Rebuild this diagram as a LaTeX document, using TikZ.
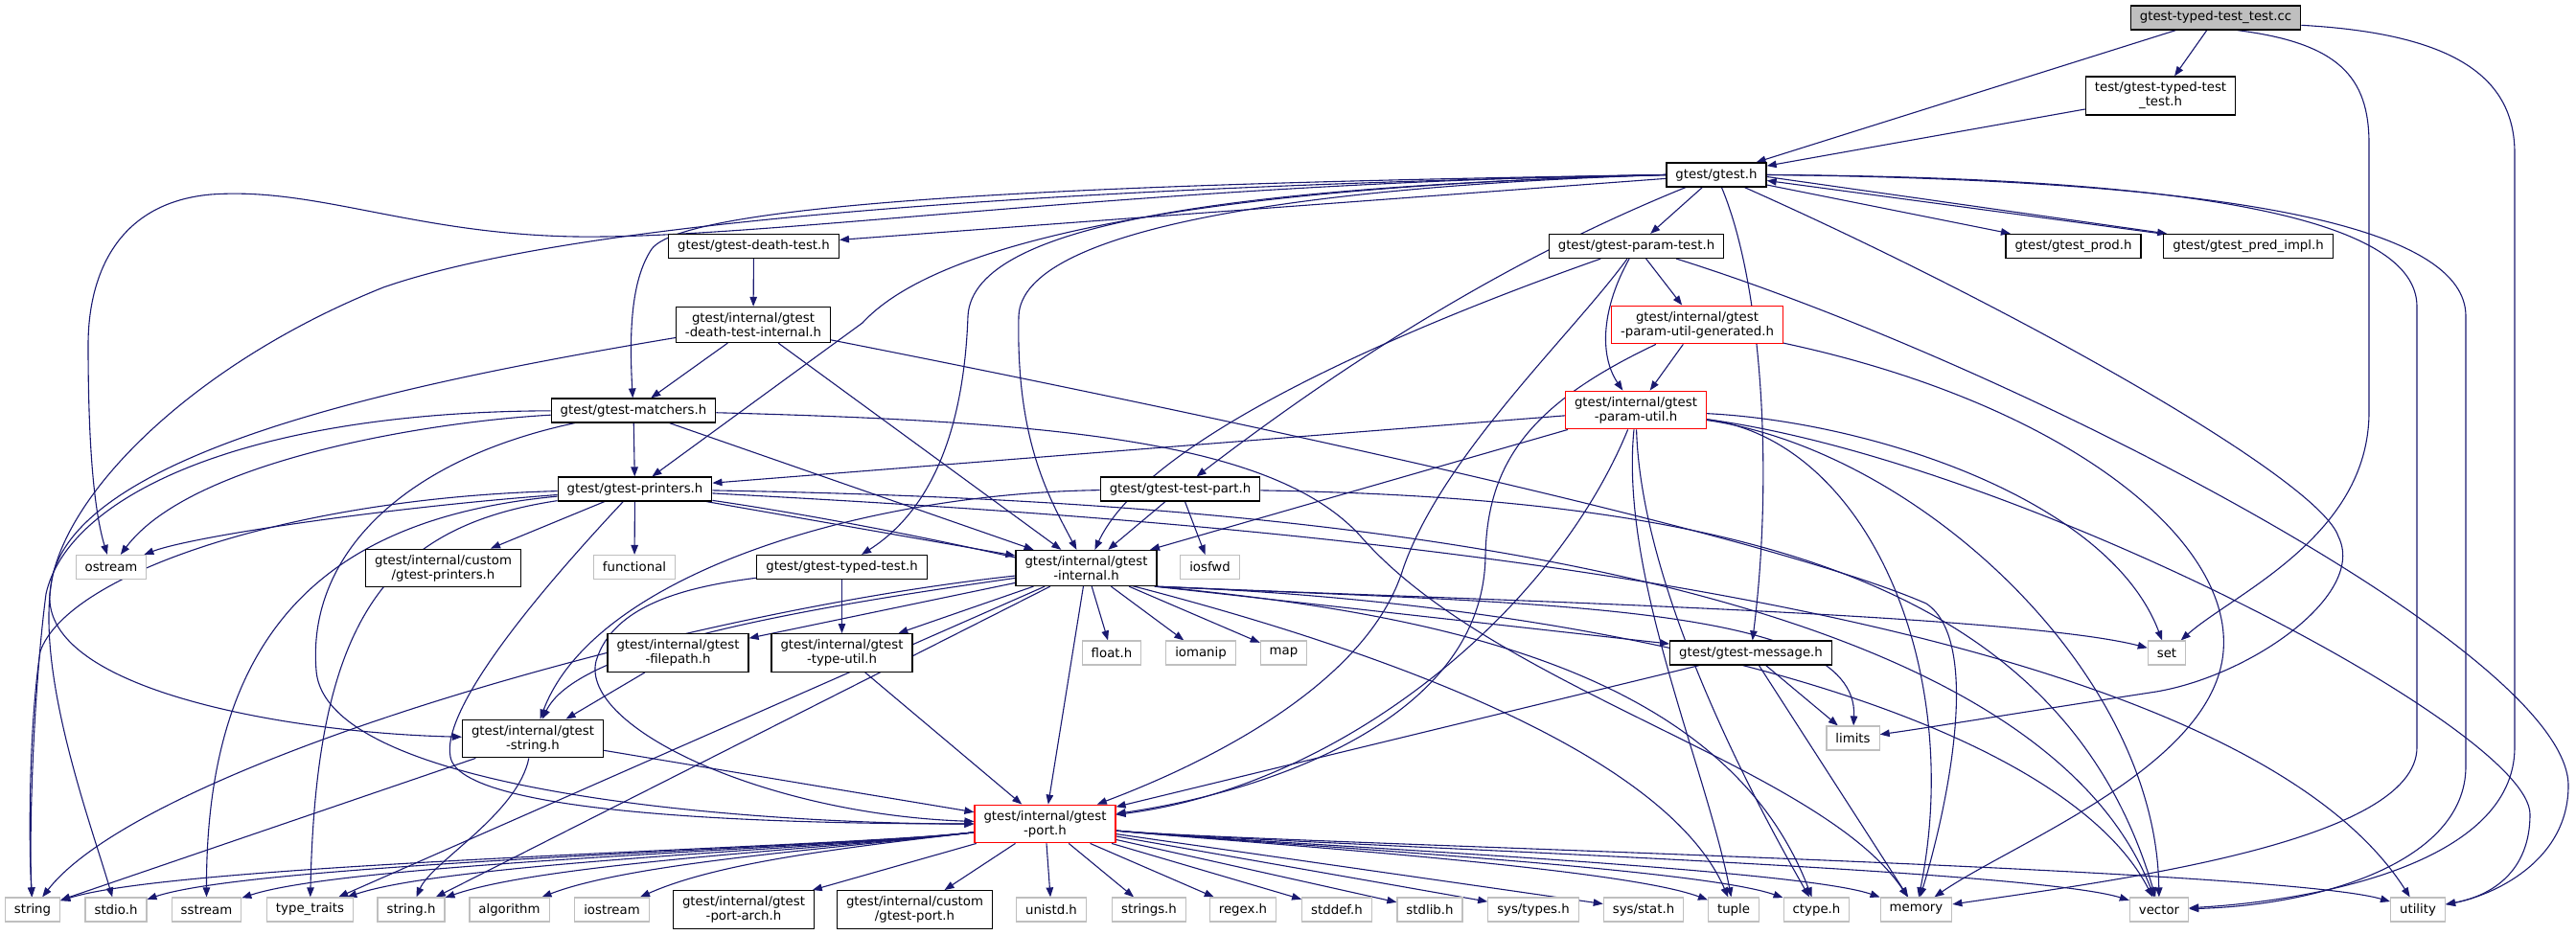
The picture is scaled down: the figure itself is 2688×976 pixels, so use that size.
\documentclass[tikz,border=0pt]{standalone}
\usepackage{fontspec}
\setmainfont{DejaVu Sans}
\usetikzlibrary{arrows.meta,backgrounds}
\definecolor{edgeblue}{HTML}{191970}
\definecolor{sysgray}{HTML}{BFBFBF}

\begin{document}
\begin{tikzpicture}[x=1pt,y=-1pt,
  hdr/.style={draw=black,line width=1.2pt,fill=white,inner xsep=9.5pt,inner ysep=5.9pt,minimum height=25pt,align=center,font=\fontsize{13.3}{15}\selectfont},
  sys/.style={hdr,draw=sysgray},
  trunc/.style={hdr,draw=red},
  root/.style={hdr,fill=sysgray},
  dep/.style={draw=edgeblue,line width=1.1pt,-{Triangle[length=10pt,width=7.5pt]}}]
\useasboundingbox (0,0) rectangle (2688,976);

% headers
\node[root] (main) at (2312,18.5) {gtest-typed-test\_test.cc};
\node[hdr] (testh) at (2254.5,100) {test/gtest-typed-test\\\_test.h};
\node[hdr] (gtest) at (1791,182.5) {gtest/gtest.h};
\node[hdr] (deathtest) at (786.5,257) {gtest/gtest-death-test.h};
\node[hdr] (paramtest) at (1707.5,257) {gtest/gtest-param-test.h};
\node[hdr] (prod) at (2163.5,257) {gtest/gtest\_prod.h};
\node[hdr] (predimpl) at (2346,257) {gtest/gtest\_pred\_impl.h};
\node[hdr] (dtinternal) at (786,339) {gtest/internal/gtest\\-death-test-internal.h};
\node[trunc] (paramgen) at (1771,339) {gtest/internal/gtest\\-param-util-generated.h};
\node[hdr] (matchers) at (661,428.5) {gtest/gtest-matchers.h};
\node[trunc] (paramutil) at (1707,428) {gtest/internal/gtest\\-param-util.h};
\node[hdr] (printers) at (662.5,510.5) {gtest/gtest-printers.h};
\node[hdr] (testpart) at (1231.5,510.5) {gtest/gtest-test-part.h};
\node[sys] (ostream) at (116,592) {ostream};
\node[hdr] (customprinters) at (462.5,593) {gtest/internal/custom\\/gtest-printers.h};
\node[sys] (functional) at (662,592) {functional};
\node[hdr] (typedtest) at (878.5,592) {gtest/gtest-typed-test.h};
\node[hdr] (internal) at (1133.5,593) {gtest/internal/gtest\\-internal.h};
\node[sys] (iosfwd) at (1262.5,592) {iosfwd};
\node[hdr] (filepath) at (707.5,681.5) {gtest/internal/gtest\\-filepath.h};
\node[hdr] (typeutil) at (878.5,681.5) {gtest/internal/gtest\\-type-util.h};
\node[sys] (floath) at (1160,681.5) {float.h};
\node[sys] (iomanip) at (1253,681.5) {iomanip};
\node[sys] (map) at (1339.5,681.5) {map};
\node[hdr] (message) at (1827,681.5) {gtest/gtest-message.h};
\node[sys] (set) at (2261,681.5) {set};
\node[sys] (limits) at (1933.5,770.5) {limits};
\node[hdr] (gstring) at (556,771) {gtest/internal/gtest\\-string.h};
\node[trunc] (port) at (1090.5,860) {gtest/internal/gtest\\-port.h};
% bottom row
\node[sys] (string) at (34,949.5) {string};
\node[sys] (stdioh) at (121,949.5) {stdio.h};
\node[sys] (sstream) at (215.5,949.5) {sstream};
\node[sys] (typetraits) at (323.5,949.5) {type\_traits};
\node[sys] (stringh) at (429,949.5) {string.h};
\node[sys] (algorithm) at (531.5,949.5) {algorithm};
\node[sys] (iostream) at (638.5,949.5) {iostream};
\node[hdr] (portarch) at (776,949.5) {gtest/internal/gtest\\-port-arch.h};
\node[hdr] (customport) at (954.5,949.5) {gtest/internal/custom\\/gtest-port.h};
\node[sys] (unistdh) at (1097,949.5) {unistd.h};
\node[sys] (stringsh) at (1199,949.5) {strings.h};
\node[sys] (regexh) at (1297,949.5) {regex.h};
\node[sys] (stddefh) at (1395,949.5) {stddef.h};
\node[sys] (stdlibh) at (1492,949.5) {stdlib.h};
\node[sys] (systypesh) at (1600,949.5) {sys/types.h};
\node[sys] (sysstath) at (1715,949.5) {sys/stat.h};
\node[sys] (tuple) at (1809,949.5) {tuple};
\node[sys] (ctypeh) at (1895.5,949.5) {ctype.h};
\node[sys] (memory) at (1999.5,949.5) {memory};
\node[sys] (vector) at (2253,949.5) {vector};
\node[sys] (utility) at (2523,949.5) {utility};

\begin{scope}[on background layer]
% gtest-typed-test_test.cc
\draw[dep] (main) -- (gtest);
\draw[dep] (main) -- (testh);
\draw[dep] (main.-30) .. controls (2440,45) and (2472,80) .. (2472,150) -- (2472,430) .. controls (2472,560) and (2330,620) .. (set);
\draw[dep] (main.-5) .. controls (2560,35) and (2624,80) .. (2624,160) -- (2624,780) .. controls (2624,900) and (2420,940) .. (vector);
\draw[dep] (testh) -- (gtest);
% gtest.h
\draw[dep] (gtest) -- (deathtest);
\draw[dep] (gtest) -- (paramtest);
\draw[dep] (gtest) -- (prod);
\draw[dep] ([yshift=-2pt]gtest.east) -- ([xshift=4pt]predimpl.north west);
\draw[dep] ([xshift=-2pt]predimpl.north west) -- ([yshift=-6pt]gtest.east);
\draw[dep] (gtest.west) .. controls (1200,190) and (800,250) .. (600,247) .. controls (430,244) and (330,195) .. (220,203) .. controls (120,212) and (92,290) .. (92,360) .. controls (92,480) and (100,540) .. (ostream);
\draw[dep] (gtest.west) .. controls (1250,190) and (720,205) .. (680,260) .. controls (660,290) and (656,340) .. (matchers);
\draw[dep] (gtest.west) .. controls (1250,195) and (980,250) .. (900,337) -- (printers);
\draw[dep] (gtest.west) .. controls (1300,195) and (1015,230) .. (1010,330) .. controls (1005,470) and (960,540) .. (typedtest);
\draw[dep] (gtest.west) .. controls (1350,195) and (1066,240) .. (1063,330) .. controls (1060,460) and (1095,520) .. (internal);
\draw[dep] (gtest.west) .. controls (1100,195) and (600,230) .. (400,300) .. controls (200,380) and (60,520) .. (52,620) .. controls (45,720) and (300,765) .. (gstring);
\draw[dep] (gtest) .. controls (1650,240) and (1480,320) .. (testpart);
\draw[dep] (gtest) .. controls (1840,300) and (1850,500) .. (message);
\draw[dep] (gtest) .. controls (2100,320) and (2420,500) .. (2440,560) .. controls (2470,620) and (2350,705) .. (2250,722) .. controls (2100,745) and (2010,760) .. (limits);
\draw[dep] (gtest.east) .. controls (2300,185) and (2522,230) .. (2522,320) -- (2522,780) .. controls (2522,880) and (2200,920) .. (memory);
\draw[dep] (gtest.east) .. controls (2350,188) and (2573,240) .. (2573,330) -- (2573,800) .. controls (2573,900) and (2420,945) .. (vector);
% death test
\draw[dep] (deathtest) -- (dtinternal);
\draw[dep] (dtinternal) -- (matchers);
\draw[dep] (dtinternal) -- (internal);
\draw[dep] (dtinternal) .. controls (420,400) and (90,470) .. (55,600) .. controls (35,700) and (95,860) .. (stdioh);
\draw[dep] (dtinternal) .. controls (1300,440) and (1850,560) .. (2010,630) .. controls (2070,670) and (2030,850) .. (memory);
% param test
\draw[dep] (paramtest) -- (paramgen);
\draw[dep] (paramtest) .. controls (1672,320) and (1668,370) .. (paramutil);
\draw[dep] (paramtest) .. controls (1500,330) and (1200,450) .. (internal);
\draw[dep] (paramtest) .. controls (1640,350) and (1500,480) .. (1462,600) .. controls (1420,720) and (1250,800) .. (port);
\draw[dep] (paramtest) .. controls (2100,380) and (2680,680) .. (2680,820) .. controls (2680,900) and (2600,935) .. (utility);
\draw[dep] (paramgen) -- (paramutil);
\draw[dep] (paramgen) .. controls (1600,420) and (1552,480) .. (1550,580) .. controls (1548,760) and (1300,830) .. (port);
\draw[dep] (paramgen) .. controls (2150,420) and (2330,560) .. (2320,680) .. controls (2310,800) and (2100,880) .. (memory);
% matchers
\draw[dep] (matchers) .. controls (450,440) and (200,480) .. (ostream);
\draw[dep] (matchers) .. controls (250,430) and (70,520) .. (48,620) .. controls (35,720) and (30,870) .. (string);
\draw[dep] (matchers) -- (printers);
\draw[dep] (matchers) -- (internal);
\draw[dep] (matchers) .. controls (420,480) and (320,580) .. (330,700) .. controls (340,830) and (800,860) .. (port);
\draw[dep] (matchers) .. controls (1100,440) and (1330,460) .. (1420,560) .. controls (1560,720) and (1900,800) .. (memory);
% printers
\draw[dep] (printers) .. controls (400,530) and (200,560) .. (ostream);
\draw[dep] (printers) -- (customprinters);
\draw[dep] (printers) -- (functional);
\draw[dep] (printers) -- (internal);
\draw[dep] (printers) .. controls (300,520) and (70,600) .. (42,680) .. controls (30,760) and (30,880) .. (string);
\draw[dep] (printers) .. controls (350,540) and (215,650) .. (sstream);
\draw[dep] (printers) .. controls (400,550) and (330,650) .. (typetraits);
\draw[dep] (printers) .. controls (560,620) and (460,740) .. (470,790) .. controls (480,850) and (800,860) .. (port);
\draw[dep] (printers) .. controls (1000,560) and (1700,700) .. (tuple);
\draw[dep] (printers) .. controls (1200,540) and (2300,600) .. (utility);
\draw[dep] (printers) .. controls (1200,520) and (2100,560) .. (vector);
% test part, typed test
\draw[dep] (testpart) -- (internal);
\draw[dep] (testpart) -- (iosfwd);
\draw[dep] (testpart) .. controls (900,515) and (620,600) .. (gstring);
\draw[dep] (testpart) .. controls (1800,520) and (2150,600) .. (vector);
\draw[dep] (typedtest) -- (typeutil);
\draw[dep] (typedtest) .. controls (720,612) and (640,630) .. (622,690) .. controls (605,760) and (800,850) .. (port);
% internal
\draw[dep] (internal) -- (filepath);
\draw[dep] (internal) -- (typeutil);
\draw[dep] (internal) .. controls (800,640) and (600,680) .. (gstring);
\draw[dep] (internal) -- (port);
\draw[dep] (internal) -- (floath);
\draw[dep] (internal) -- (iomanip);
\draw[dep] (internal) -- (map);
\draw[dep] (internal.-15) -- (message);
\draw[dep] (internal.-15) .. controls (1500,625) and (2100,640) .. (set);
\draw[dep] (internal.-15) .. controls (1600,630) and (1940,630) .. (limits);
\draw[dep] (internal.-15) .. controls (1700,630) and (2150,750) .. (vector);
\draw[dep] (internal.-15) .. controls (1500,640) and (1800,700) .. (ctypeh);
\draw[dep] (internal) -- (stringh);
\draw[dep] (internal) -- (typetraits);
\draw[dep] (internal) .. controls (700,640) and (150,800) .. (string);
% param util
\draw[dep] (paramutil) -- (printers);
\draw[dep] (paramutil) -- (internal);
\draw[dep] (paramutil) .. controls (1620,640) and (1400,820) .. (port);
\draw[dep] (paramutil) .. controls (1690,600) and (1780,800) .. (tuple);
\draw[dep] (paramutil) .. controls (1712,600) and (1810,800) .. (ctypeh);
\draw[dep] (paramutil) .. controls (1950,440) and (2200,520) .. (set);
\draw[dep] (paramutil) .. controls (1950,460) and (2050,700) .. (memory);
\draw[dep] (paramutil) .. controls (2000,470) and (2250,700) .. (vector);
\draw[dep] (paramutil) .. controls (2100,480) and (2640,760) .. (2640,850) .. controls (2640,910) and (2600,935) .. (utility);
% message, filepath, type util, string
\draw[dep] (message) -- (port);
\draw[dep] (message) -- (limits);
\draw[dep] (message) -- (memory);
\draw[dep] (filepath) -- (gstring);
\draw[dep] (typeutil) -- (port);
\draw[dep] (gstring) -- (string);
\draw[dep] (gstring) .. controls (540,850) and (450,900) .. (stringh);
\draw[dep] (gstring) -- (port);
% gtest-port.h
\foreach \t/\cx in {string/190,stdioh/270,sstream/365,typetraits/470,stringh/570,algorithm/660,iostream/750}
  \draw[dep] (port) .. controls (880,885) and (\cx,900) .. (\t);
\foreach \t in {portarch,customport,unistdh,stringsh,regexh,stddefh,stdlibh,systypesh,sysstath}
  \draw[dep] (port) -- (\t);
\foreach \t/\cx in {tuple/1690,ctypeh/1770,memory/1870,vector/2110,utility/2370}
  \draw[dep] (port) .. controls (1300,880) and (\cx,905) .. (\t);
\end{scope}
\end{tikzpicture}
\end{document}
